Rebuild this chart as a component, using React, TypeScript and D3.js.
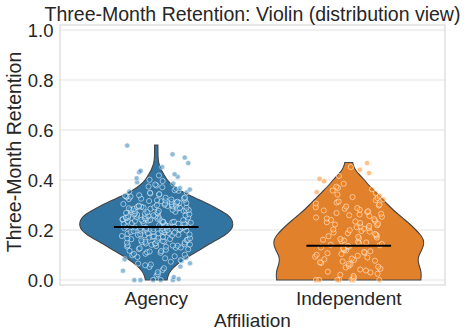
import React from "react";
import * as d3 from "d3";

const categories = ["Agency", "Independent"];
const yTicks = [0, 0.2, 0.4, 0.6, 0.8, 1.0];

// Violin profiles: retention grid and relative density (half-width units)
const agencyGrid = [0, 0.02, 0.04, 0.06, 0.08, 0.1, 0.12, 0.14, 0.16, 0.18, 0.2, 0.22, 0.24, 0.26, 0.28, 0.3, 0.32, 0.34, 0.36, 0.38, 0.4, 0.42, 0.44, 0.46, 0.48, 0.5, 0.54];
const agencyDensity = [11, 12, 15, 20, 27, 35, 44, 52, 61, 70, 76, 78, 77, 73, 64, 55, 44, 33, 23, 16, 11, 8, 5, 3, 2, 1.7, 1.7];
const independentGrid = [0, 0.02, 0.04, 0.06, 0.08, 0.1, 0.12, 0.14, 0.16, 0.18, 0.2, 0.22, 0.24, 0.26, 0.28, 0.3, 0.32, 0.34, 0.36, 0.38, 0.4, 0.42, 0.44, 0.46, 0.47];
const independentDensity = [73, 73.5, 73, 71, 70, 71, 74, 76, 76, 73, 68, 63, 57, 51, 45, 40, 35, 30, 25, 20, 16, 11, 6.5, 4.5, 4];

const medians = [0.212, 0.137];

const agencyValues = [
  0, 0, 0, 0, 0, 0.004, 0.012, 0.018,
  0.023, 0.031, 0.037, 0.04, 0.047, 0.052, 0.054, 0.059,
  0.062, 0.066, 0.067, 0.073, 0.076, 0.079, 0.083, 0.087, 0.089, 0.092, 0.095, 0.099,
  0.101, 0.104, 0.105, 0.109, 0.111, 0.114, 0.116, 0.117, 0.121, 0.123, 0.124, 0.127, 0.129, 0.13, 0.133, 0.134, 0.136, 0.137, 0.138, 0.139,
  0.141, 0.142, 0.143, 0.145, 0.146, 0.147, 0.149, 0.15, 0.151, 0.153, 0.154, 0.156, 0.157, 0.158, 0.16, 0.161, 0.163, 0.164, 0.166, 0.167, 0.169, 0.17, 0.172, 0.173, 0.175, 0.176, 0.178, 0.179,
  0.18, 0.181, 0.182, 0.183, 0.185, 0.186, 0.187, 0.188, 0.189, 0.19, 0.191, 0.192, 0.193, 0.195, 0.196, 0.197, 0.198, 0.199, 0.2, 0.201, 0.202, 0.203, 0.204, 0.205, 0.206, 0.207, 0.208, 0.209, 0.21, 0.211, 0.212, 0.213, 0.214, 0.215, 0.216, 0.217, 0.219,
  0.22, 0.221, 0.222, 0.223, 0.224, 0.225, 0.226, 0.227, 0.228, 0.229, 0.23, 0.231, 0.232, 0.233, 0.234, 0.235, 0.236, 0.237, 0.238, 0.239, 0.24, 0.241, 0.242, 0.243, 0.244, 0.245, 0.246, 0.247, 0.248, 0.249, 0.25, 0.251, 0.252, 0.253, 0.254, 0.255, 0.256, 0.257, 0.258, 0.259,
  0.261, 0.262, 0.263, 0.265, 0.266, 0.267, 0.268, 0.27, 0.271, 0.272, 0.273, 0.275, 0.276, 0.277, 0.278, 0.279, 0.28, 0.281, 0.282, 0.284, 0.285, 0.286, 0.287, 0.288, 0.289, 0.29, 0.291, 0.292, 0.293, 0.294, 0.295, 0.296, 0.297, 0.298, 0.299,
  0.301, 0.302, 0.304, 0.305, 0.306, 0.308, 0.309, 0.31, 0.312, 0.313, 0.315, 0.316, 0.318, 0.319, 0.321, 0.322, 0.324, 0.325, 0.327, 0.329, 0.33, 0.332, 0.334, 0.335, 0.337, 0.339,
  0.341, 0.344, 0.346, 0.349, 0.351, 0.354, 0.357, 0.359, 0.362, 0.365, 0.368, 0.371, 0.374, 0.378,
  0.382, 0.386, 0.391, 0.396, 0.401, 0.407, 0.413, 0.418,
  0.423, 0.431, 0.437, 0.452,
  0.468, 0.49, 0.503, 0.538,
];

const independentValues = [
  0, 0, 0, 0, 0, 0, 0, 0.005, 0.01, 0.016,
  0.021, 0.025, 0.03, 0.033, 0.038, 0.042, 0.045, 0.05, 0.053, 0.057,
  0.062, 0.065, 0.068, 0.071, 0.074, 0.077, 0.08, 0.083, 0.086, 0.09, 0.093, 0.097,
  0.101, 0.104, 0.107, 0.109, 0.112, 0.115, 0.118, 0.121, 0.124, 0.127, 0.13, 0.133, 0.136, 0.139,
  0.141, 0.144, 0.147, 0.15, 0.152, 0.155, 0.158, 0.161, 0.164, 0.167, 0.17, 0.173, 0.175, 0.178,
  0.181, 0.184, 0.187, 0.19, 0.193, 0.196, 0.199, 0.202, 0.205, 0.208, 0.211, 0.214, 0.216, 0.219,
  0.222, 0.225, 0.228, 0.231, 0.234, 0.237, 0.24, 0.243, 0.246, 0.25, 0.253, 0.256, 0.259,
  0.262, 0.265, 0.268, 0.272, 0.275, 0.278, 0.281, 0.285, 0.288, 0.291, 0.294, 0.298,
  0.302, 0.306, 0.31, 0.314, 0.319, 0.323, 0.328, 0.332, 0.337,
  0.342, 0.347, 0.352, 0.358, 0.363, 0.368, 0.373,
  0.385, 0.395, 0.405, 0.416,
  0.428, 0.441, 0.452, 0.468,
];

const violinColors = ["#3274a1", "#e1812c"];
const pointColors = ["#1f77b4", "#ff7f0e"];

const W = 469;
const H = 336;
const M = { left: 60, right: 445, top: 25, bottom: 285 };
const FONT = "'Liberation Sans', Arial, 'DejaVu Sans', sans-serif";
const TEXT = "#262626";

// deterministic stripplot jitter in [-1, 1]
function jitter(i: number, seed: number) {
  const s = Math.sin(i * 12.9898 + seed * 78.233) * 43758.5453;
  return (s - Math.floor(s)) * 2 - 1;
}

export default function App() {
  const x = d3.scaleBand<string>().domain(categories).range([M.left, M.right]).padding(0);
  const y = d3.scaleLinear().domain([-0.02, 1.02]).range([M.bottom, M.top]);
  const bw = x.bandwidth();
  const wScale = d3.scaleLinear().domain([0, 78]).range([0, 0.4 * bw]);

  const grids = [agencyGrid, independentGrid];
  const dens = [agencyDensity, independentDensity];
  const pts = [agencyValues, independentValues];

  const violins = categories.map((c, k) => {
    const cx = (x(c) as number) + bw / 2;
    const data = grids[k].map((g, i) => ({ v: g, d: dens[k][i] }));
    const area = d3
      .area<{ v: number; d: number }>()
      .y((p) => y(p.v))
      .x0((p) => cx - wScale(p.d))
      .x1((p) => cx + wScale(p.d))
      .curve(d3.curveBasis);
    return { cx, path: area(data) as string };
  });

  const jitterWidth = 0.18 * bw;
  const medianHalf = 0.22 * bw;

  return (
    <svg width={W} height={H} style={{ position: "absolute", left: 0, top: 0 }} fontFamily={FONT}>
      <rect x={0} y={0} width={W} height={H} fill="#ffffff" />
      {/* grid */}
      {yTicks.map((t) => (
        <line key={"g" + t} x1={M.left} x2={M.right} y1={y(t)} y2={y(t)} stroke="#e3e3e3" strokeWidth={1.1} />
      ))}
      {/* frame */}
      <rect x={M.left} y={M.top} width={M.right - M.left} height={M.bottom - M.top} fill="none" stroke="#d6d6d6" strokeWidth={1.1} />
      {/* violins */}
      {violins.map((v, k) => (
        <path key={"v" + k} d={v.path} fill={violinColors[k]} stroke="#444444" strokeWidth={1.1} />
      ))}
      {/* points */}
      {pts.map((arr, k) =>
        arr.map((val, i) => (
          <circle
            key={"p" + k + "-" + i}
            cx={violins[k].cx + jitter(i, k + 1) * jitterWidth}
            cy={y(val)}
            r={2.6}
            fill={pointColors[k]}
            fillOpacity={0.5}
            stroke="#ffffff"
            strokeOpacity={0.75}
            strokeWidth={0.7}
          />
        ))
      )}
      {/* medians */}
      {medians.map((m, k) => (
        <line key={"m" + k} x1={violins[k].cx - medianHalf} x2={violins[k].cx + medianHalf} y1={y(m)} y2={y(m)} stroke="#000000" strokeWidth={2} />
      ))}
      {/* y tick labels */}
      {yTicks.map((t) => (
        <text key={"t" + t} x={53.5} y={y(t)} dy="0.36em" textAnchor="end" fontSize={18.5} fill={TEXT}>
          {t.toFixed(1)}
        </text>
      ))}
      {/* x tick labels */}
      {categories.map((c) => (
        <text key={"x" + c} x={(x(c) as number) + bw / 2} y={305} textAnchor="middle" fontSize={19} fill={TEXT}>
          {c}
        </text>
      ))}
      <text x={(M.left + M.right) / 2} y={326.5} textAnchor="middle" fontSize={19} fill={TEXT}>
        Affiliation
      </text>
      <text transform={`translate(20.5, ${(M.top + M.bottom) / 2 - 3}) rotate(-90)`} textAnchor="middle" fontSize={19.5} fill={TEXT}>
        Three-Month Retention
      </text>
      <text x={(M.left + M.right) / 2} y={21} textAnchor="middle" fontSize={19.5} fill={TEXT}>
        Three-Month Retention: Violin (distribution view)
      </text>
    </svg>
  );
}
